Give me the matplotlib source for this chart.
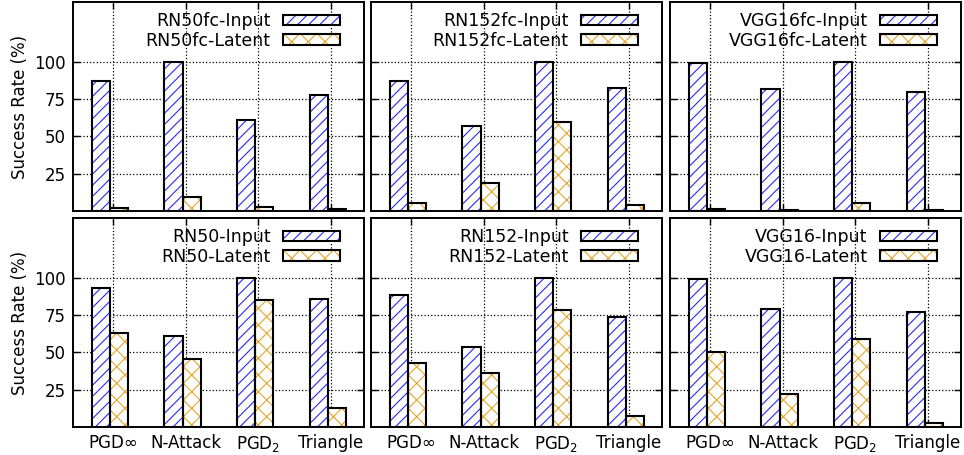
import matplotlib
matplotlib.use('Agg')
import matplotlib.pyplot as plt
import matplotlib.patches as mpatches
from matplotlib.legend_handler import HandlerTuple
import numpy as np

# attack names on the x axis
attacks = ['PGD∞', 'N-Attack', 'PGD$_2$', 'Triangle']

# success rates (%)
rn50fc_input = [87.4, 100, 61.0, 77.6]
rn50fc_latent = [2.3, 9.5, 2.8, 1.6]
rn152fc_input = [86.8, 57.0, 100, 82.3]
rn152fc_latent = [5.1, 18.9, 59.9, 4.2]
vgg16fc_input = [99.1, 81.4, 100, 80.0]
vgg16fc_latent = [1.5, 1.0, 5.1, 0.4]
rn50_input = [93.1, 61.1, 100, 85.7]
rn50_latent = [63.1, 45.7, 85.3, 12.9]
rn152_input = [88.4, 53.5, 100, 73.9]
rn152_latent = [42.8, 36.0, 78.6, 7.6]
vgg16_input = [98.9, 79.0, 100, 77.0]
vgg16_latent = [50.4, 22.2, 59.1, 2.9]

panels = [
    ('RN50fc', rn50fc_input, rn50fc_latent),
    ('RN152fc', rn152fc_input, rn152fc_latent),
    ('VGG16fc', vgg16fc_input, vgg16fc_latent),
    ('RN50', rn50_input, rn50_latent),
    ('RN152', rn152_input, rn152_latent),
    ('VGG16', vgg16_input, vgg16_latent),
]

plt.rcParams['font.family'] = ['DejaVu Sans']
plt.rcParams['font.size'] = 12
plt.rcParams['hatch.linewidth'] = 0.8

BLUE = '#2a2aff'
GOLD = '#e6a627'
W = 0.25
HATCH_IN = '///'
HATCH_LAT = 'xx'

fig = plt.figure(figsize=(9.64, 4.55), dpi=100)
FW, FH = 964.0, 455.0

# panel boxes in pixels (left, top, width, height)
lefts = [73, 371, 670]
tops = [2, 218]
pw, ph = 291, 209


def draw_bars(ax, x, vals, color, hatch):
    # hatch layer (colored), then black outline on top
    ax.bar(x, vals, width=W, facecolor='white', edgecolor=color, hatch=hatch,
           linewidth=0, zorder=2)
    ax.bar(x, vals, width=W, facecolor='none', edgecolor='black',
           linewidth=1.5, zorder=3)


x = np.arange(len(attacks))
for i, (name, inp, lat) in enumerate(panels):
    row, col = divmod(i, 3)
    l = lefts[col]
    t = tops[row]
    ax = fig.add_axes([l / FW, 1 - (t + ph) / FH, pw / FW, ph / FH])
    draw_bars(ax, x - 0.17, inp, BLUE, HATCH_IN)
    draw_bars(ax, x + 0.08, lat, GOLD, HATCH_LAT)

    ax.set_xlim(-0.555, 3.455)
    ax.set_ylim(0, 140)
    ax.set_yticks([25, 50, 75, 100])
    ax.set_xticks(x)
    ax.set_xticklabels(attacks)
    ax.grid(True, linestyle=':', color='black', linewidth=0.9)
    ax.set_axisbelow(True)
    ax.tick_params(direction='in', top=True, right=True, length=5, width=1,
                   labelsize=12, pad=5)
    if col > 0:
        ax.tick_params(labelleft=False)
    if row == 0:
        ax.tick_params(labelbottom=False)
    for s in ax.spines.values():
        s.set_linewidth(1.4)

    h_in = (mpatches.Patch(facecolor='white', edgecolor=BLUE, hatch=HATCH_IN, linewidth=0),
            mpatches.Patch(facecolor='none', edgecolor='black', linewidth=1.5))
    h_lat = (mpatches.Patch(facecolor='white', edgecolor=GOLD, hatch=HATCH_LAT, linewidth=0),
             mpatches.Patch(facecolor='none', edgecolor='black', linewidth=1.5))
    ax.legend([h_in, h_lat], [name + '-Input', name + '-Latent'],
              handler_map={tuple: HandlerTuple(ndivide=1, pad=0)},
              loc='upper right', bbox_to_anchor=(1 - 24 / pw, 1 - 10 / ph),
              frameon=False, markerfirst=False, borderpad=0, borderaxespad=0,
              handlelength=3.3, handleheight=0.55, handletextpad=0.7,
              labelspacing=0.1, fontsize=12.5)

    if col == 0:
        fig.text(20 / FW, 1 - (t + ph / 2) / FH, 'Success Rate (%)',
                 rotation=90, ha='center', va='center', fontsize=12)

fig.savefig('out.png', dpi=100)
